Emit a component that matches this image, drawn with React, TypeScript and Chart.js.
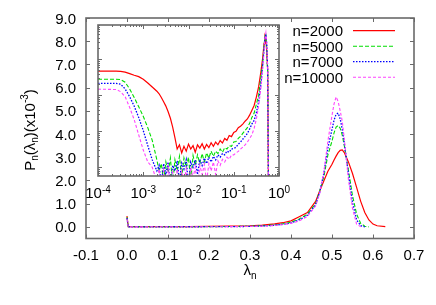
import { useEffect, useRef } from 'react';
import { Chart, registerables } from 'chart.js';

Chart.register(...registerables);

const FONT = '"Liberation Sans", Arial, Helvetica, sans-serif';
const AXIS = '#6a6a6a';

// ---------------- data ----------------
const seriesLabels = ['n=2000', 'n=5000', 'n=7000', 'n=10000'];

// main plot: P_n(lambda_n) (x10^-3) vs lambda_n
const mainLambda = [0, 0.003, 0.05, 0.1, 0.15, 0.2, 0.25, 0.3, 0.33, 0.36, 0.38, 0.4, 0.42, 0.44, 0.46, 0.47, 0.48, 0.49, 0.5, 0.505, 0.51, 0.515, 0.52, 0.525, 0.53, 0.54, 0.55, 0.56, 0.57, 0.58, 0.59, 0.6, 0.61, 0.63];
const mainN2000 = [0.47, 0.01, 0.01, 0.012, 0.015, 0.02, 0.03, 0.05, 0.08, 0.13, 0.18, 0.26, 0.44, 0.62, 1.1, 1.55, 1.98, 2.4, 2.7, 2.88, 3.05, 3.2, 3.3, 3.32, 3.2, 2.8, 2.3, 1.7, 1.1, 0.62, 0.3, 0.12, 0.05, 0.01];
const mainN5000 = [0.42, 0.005, 0.005, 0.006, 0.008, 0.01, 0.015, 0.03, 0.05, 0.08, 0.13, 0.2, 0.34, 0.55, 1.0, 1.55, 2.15, 3.1, 3.7, 4.05, 4.3, 4.37, 4.25, 3.95, 3.5, 2.45, 1.35, 0.55, 0.15, 0.03, 0.0, null, null, null];
const mainN7000 = [0.38, 0.004, 0.004, 0.005, 0.006, 0.008, 0.012, 0.02, 0.04, 0.07, 0.11, 0.17, 0.3, 0.5, 0.95, 1.5, 2.3, 3.4, 4.2, 4.6, 4.85, 4.9, 4.65, 4.2, 3.6, 2.3, 1.05, 0.3, 0.05, 0.005, null, null, null, null];
const mainN10000 = [0.35, 0.003, 0.003, 0.004, 0.005, 0.007, 0.01, 0.02, 0.03, 0.06, 0.1, 0.15, 0.26, 0.45, 0.9, 1.45, 2.35, 3.7, 4.8, 5.3, 5.6, 5.4, 5.0, 4.55, 3.8, 2.05, 0.8, 0.12, 0.01, null, null, null, null, null];

const mainXTicks = [-0.1, 0, 0.1, 0.2, 0.3, 0.4, 0.5, 0.6, 0.7];
const mainXTickLabels = ['-0.1', '0.0', '0.1', '0.2', '0.3', '0.4', '0.5', '0.6', '0.7'];
const mainYTicks = [0, 1, 2, 3, 4, 5, 6, 7, 8, 9];
const mainYTickLabels = ['0.0', '1.0', '2.0', '3.0', '4.0', '5.0', '6.0', '7.0', '8.0', '9.0'];

// inset: log-log view
const insetLambda = [
  0.0001, 0.000251, 0.000316, 0.000398, 0.000501, 0.000631, 0.000794, 0.001, 0.00126, 0.00158, 0.002,
  0.00224, 0.00251, 0.00282, 0.00316, 0.00355, 0.00398, 0.00447, 0.00501, 0.00562,
  0.00631, 0.00708, 0.00794, 0.00891, 0.01, 0.0112, 0.0126, 0.0141, 0.0158, 0.0178, 0.02, 0.0224, 0.0251, 0.0282, 0.0316,
  0.0355, 0.0398, 0.0447, 0.0501, 0.0562, 0.0631, 0.0708, 0.0794, 0.0891, 0.1, 0.112, 0.126, 0.141, 0.158, 0.178, 0.2,
  0.224, 0.251, 0.282, 0.316,
  0.355, 0.398, 0.437, 0.468, 0.49, 0.513, 0.537, 0.562, 0.589, 0.617,
];
const insetN2000 = [
  0.047, 0.047, 0.046, 0.044, 0.04, 0.036, 0.033, 0.028, 0.022, 0.017, 0.013,
  0.011, 0.0087, 0.0066, 0.005, 0.0035, 0.0023, 0.0013, 0.00066, 0.00032,
  0.00042, 0.00025, 0.00038, 0.00028, 0.00044, 0.00032, 0.0004, 0.00026, 0.00042, 0.00034, 0.00045, 0.00032, 0.00043, 0.00035, 0.00048,
  0.00038, 0.0005, 0.00042, 0.00055, 0.00047, 0.00063, 0.00056, 0.00076, 0.00071, 0.00093, 0.001, 0.00126, 0.00138, 0.00158, 0.0019, 0.0022,
  0.0028, 0.0038, 0.0052, 0.0089,
  0.0174, 0.045, 0.112, 0.28, 0.43, 0.35, 0.158, 0.05, 1e-5, 1e-6,
];
const insetN5000 = [
  0.028, 0.028, 0.0275, 0.023, 0.015, 0.0087, 0.0048, 0.0026, 0.00126, 0.00056, 0.00016,
  7.9e-5, 1.26e-4, 4.0e-5, 1.4e-4, 7.1e-5, 1.8e-4, 3.2e-5, 1.6e-4, 7.9e-5,
  2.0e-4, 5.0e-5, 1.8e-4, 1.0e-4, 1.9e-4, 4.0e-5, 2.1e-4, 1.12e-4, 2.2e-4, 1.26e-4, 2.4e-4, 1.4e-4, 2.5e-4, 1.8e-4, 2.8e-4,
  2.0e-4, 2.8e-4, 2.4e-4, 3.2e-4, 2.6e-4, 3.5e-4, 3.2e-4, 4.0e-4, 3.8e-4, 5.0e-4, 5.2e-4, 6.3e-4, 7.2e-4, 8.7e-4, 1.05e-3, 1.26e-3,
  1.66e-3, 2.4e-3, 3.2e-3, 5.6e-3,
  0.01, 0.032, 0.079, 0.25, 0.44, 0.48, 0.2, 0.04, 1e-5, 1e-6,
];
const insetN7000 = [
  0.0214, 0.0214, 0.0204, 0.015, 0.0091, 0.005, 0.0024, 0.00105, 0.0004, 0.00016, 7.9e-5,
  1.12e-4, 3.2e-5, 1.26e-4, 6.3e-5, 1.4e-4, 2.5e-5, 1.12e-4, 7.9e-5, 1.5e-4,
  4.0e-5, 1.3e-4, 8.9e-5, 1.6e-4, 3.2e-5, 1.4e-4, 1.0e-4, 1.6e-4, 6.3e-5, 1.66e-4, 1.12e-4, 1.8e-4, 1.26e-4, 1.9e-4, 1.4e-4,
  2.0e-4, 1.6e-4, 2.2e-4, 1.9e-4, 2.4e-4, 2.2e-4, 2.8e-4, 2.6e-4, 3.2e-4, 3.3e-4, 3.6e-4, 4.4e-4, 5.0e-4, 6.0e-4, 7.2e-4, 8.7e-4,
  1.15e-3, 1.58e-3, 2.0e-3, 3.3e-3,
  6.6e-3, 0.02, 0.071, 0.2, 0.4, 0.5, 0.25, 0.05, 1e-5, 1e-6,
];
const insetN10000 = [
  0.0148, 0.0145, 0.0126, 0.0091, 0.0046, 0.0021, 0.00079, 0.0003, 0.00014, 1.0e-4, 4.0e-5,
  8.9e-5, 2.5e-5, 7.9e-5, 1.6e-5, 1.0e-4, 3.2e-5, 7.1e-5, 2.0e-5, 8.9e-5,
  2.5e-5, 7.9e-5, 4.0e-5, 8.9e-5, 2.0e-5, 1.0e-4, 5.0e-5, 1.0e-4, 2.5e-5, 1.12e-4, 6.3e-5, 1.2e-4, 4.0e-5, 1.26e-4, 7.9e-5,
  1.4e-4, 6.3e-5, 1.5e-4, 1.12e-4, 1.66e-4, 1.4e-4, 1.9e-4, 1.66e-4, 2.2e-4, 2.2e-4, 2.5e-4, 2.75e-4, 3.2e-4, 3.6e-4, 4.2e-4, 5.0e-4,
  6.3e-4, 7.9e-4, 1.2e-3, 2.2e-3,
  5.0e-3, 0.0158, 0.056, 0.178, 0.38, 0.54, 0.28, 0.056, 1e-5, 1e-6,
];

const insetXTicks = [1e-4, 1e-3, 1e-2, 1e-1, 1];
const insetXTickExponents = ['-4', '-3', '-2', '-1', '0'];

// ---------------- styles ----------------
const seriesColors = ['#ff0000', '#00dd00', '#0000ff', '#ff44ff'];
const seriesDashes: number[][] = [[], [4, 2], [1.5, 1.5], [3, 2]];
const seriesWidths = [1.2, 1.1, 1.3, 1.1];

type Run = { t: string; size: number; dy: number };

function runsWidth(ctx: CanvasRenderingContext2D, runs: Run[]) {
  let w = 0;
  for (const r of runs) {
    ctx.font = `${r.size}px ${FONT}`;
    w += ctx.measureText(r.t).width;
  }
  return w;
}

function drawRuns(ctx: CanvasRenderingContext2D, runs: Run[], x: number, y: number, align: 'left' | 'center' | 'right') {
  const total = runsWidth(ctx, runs);
  let cx = align === 'center' ? x - total / 2 : align === 'right' ? x - total : x;
  ctx.textAlign = 'left';
  ctx.textBaseline = 'alphabetic';
  for (const r of runs) {
    ctx.font = `${r.size}px ${FONT}`;
    ctx.fillText(r.t, cx, y + r.dy);
    cx += ctx.measureText(r.t).width;
  }
}

function seg(ctx: CanvasRenderingContext2D, x1: number, y1: number, x2: number, y2: number) {
  ctx.beginPath();
  ctx.moveTo(x1, y1);
  ctx.lineTo(x2, y2);
  ctx.stroke();
}

const mainAxesPlugin = {
  id: 'mainAxes',
  afterDraw(chart: any) {
    const ctx: CanvasRenderingContext2D = chart.ctx;
    const { left, right, top, bottom } = chart.chartArea;
    const xs = chart.scales.x;
    const ys = chart.scales.y;
    ctx.save();
    ctx.strokeStyle = AXIS;
    ctx.lineWidth = 1;
    const T = 4;
    mainXTicks.forEach((v) => {
      const px = Math.round(xs.getPixelForValue(v)) + 0.5;
      seg(ctx, px, bottom, px, bottom - T);
      seg(ctx, px, top, px, top + T);
    });
    mainYTicks.forEach((v) => {
      const py = Math.round(ys.getPixelForValue(v)) + 0.5;
      seg(ctx, left, py, left + T, py);
      seg(ctx, right, py, right - T, py);
    });
    ctx.lineWidth = 1.6;
    ctx.strokeRect(left, top, right - left, bottom - top);

    ctx.fillStyle = '#000';
    ctx.font = `15px ${FONT}`;
    ctx.textBaseline = 'alphabetic';
    ctx.textAlign = 'center';
    mainXTicks.forEach((v, i) => {
      ctx.fillText(mainXTickLabels[i], xs.getPixelForValue(v), bottom + 21.5);
    });
    ctx.textAlign = 'right';
    mainYTicks.forEach((v, i) => {
      ctx.fillText(mainYTickLabels[i], left - 10, ys.getPixelForValue(v) + 5.5);
    });

    // x title
    drawRuns(ctx, [
      { t: 'λ', size: 15, dy: 0 },
      { t: 'n', size: 10, dy: 4 },
    ], (left + right) / 2, 275, 'center');

    // y title (rotated)
    ctx.save();
    ctx.translate(35, 130);
    ctx.rotate(-Math.PI / 2);
    drawRuns(ctx, [
      { t: 'P', size: 15, dy: 0 },
      { t: 'n', size: 10, dy: 3 },
      { t: '(λ', size: 15, dy: 0 },
      { t: 'n', size: 10, dy: 3 },
      { t: ')(x10', size: 15, dy: 0 },
      { t: '-3', size: 10, dy: -7 },
      { t: ')', size: 15, dy: 0 },
    ], 0, 0, 'center');
    ctx.restore();

    // legend
    const ds = chart.data.datasets;
    ds.forEach((d: any, i: number) => {
      const base = 36 + i * 15.5;
      ctx.fillStyle = '#000';
      ctx.font = `15px ${FONT}`;
      ctx.textAlign = 'right';
      ctx.fillText(d.label, 343, base);
      ctx.strokeStyle = d.borderColor;
      ctx.lineWidth = d.borderWidth;
      ctx.setLineDash(d.borderDash || []);
      seg(ctx, 353, base - 5.3, 395, base - 5.3);
      ctx.setLineDash([]);
    });
    ctx.restore();
  },
};

const insetAxesPlugin = {
  id: 'insetAxes',
  afterDraw(chart: any) {
    const ctx: CanvasRenderingContext2D = chart.ctx;
    const { left, right, top, bottom } = chart.chartArea;
    const xs = chart.scales.x;
    const ys = chart.scales.y;
    ctx.save();
    ctx.strokeStyle = AXIS;
    ctx.lineWidth = 1;
    const xmin = xs.min, xmax = xs.max, ymin = ys.min, ymax = ys.max;
    for (let n = -6; n <= 1; n++) {
      for (let k = 1; k <= 9; k++) {
        const v = k * Math.pow(10, n);
        const len = k === 1 ? 4 : 2;
        if (v >= xmin * 0.999 && v <= xmax * 1.001) {
          const px = Math.round(xs.getPixelForValue(v)) + 0.5;
          seg(ctx, px, bottom, px, bottom - len);
          seg(ctx, px, top, px, top + len);
        }
        if (v >= ymin && v <= ymax) {
          const py = Math.round(ys.getPixelForValue(v)) + 0.5;
          seg(ctx, left, py, left + len, py);
          seg(ctx, right, py, right - len, py);
        }
      }
    }
    ctx.lineWidth = 1.6;
    ctx.strokeRect(left, top, right - left, bottom - top);

    ctx.fillStyle = '#000';
    insetXTicks.forEach((v, i) => {
      drawRuns(ctx, [
        { t: '10', size: 15, dy: 0 },
        { t: insetXTickExponents[i], size: 10, dy: -5 },
      ], xs.getPixelForValue(v), 198, 'center');
    });
    ctx.restore();
  },
};

function buildDatasets(xs: number[], series: (number | null)[][]) {
  return series.map((vals, i) => ({
    label: seriesLabels[i],
    data: xs.map((x, j) => ({ x, y: vals[j] })),
    borderColor: seriesColors[i],
    borderWidth: seriesWidths[i],
    borderDash: seriesDashes[i],
    pointRadius: 0,
    tension: 0,
    fill: false,
    order: series.length - i,
  }));
}

export default function App() {
  const mainRef = useRef<HTMLCanvasElement>(null);
  const insetRef = useRef<HTMLCanvasElement>(null);

  useEffect(() => {
    const common = {
      responsive: false,
      animation: false as const,
      events: [] as any[],
      plugins: { legend: { display: false }, tooltip: { enabled: false } },
    };
    const main = new Chart(mainRef.current as HTMLCanvasElement, {
      type: 'line',
      data: {
        datasets: buildDatasets(mainLambda, [mainN2000, mainN5000, mainN7000, mainN10000]) as any,
      },
      options: {
        ...common,
        layout: { padding: { left: 86, top: 18, right: 22, bottom: 66.5 } },
        scales: {
          x: { type: 'linear', min: -0.1, max: 0.7, display: false },
          y: { type: 'linear', min: -0.5, max: 9, display: false },
        },
      } as any,
      plugins: [mainAxesPlugin],
    });
    const inset = new Chart(insetRef.current as HTMLCanvasElement, {
      type: 'line',
      data: {
        datasets: buildDatasets(insetLambda, [insetN2000, insetN5000, insetN7000, insetN10000]) as any,
      },
      options: {
        ...common,
        layout: { padding: { left: 98, top: 25, right: 157, bottom: 129 } },
        scales: {
          x: { type: 'logarithmic', min: 1e-4, max: 1, display: false },
          y: { type: 'logarithmic', min: 5.7e-5, max: 0.9, display: false },
        },
      } as any,
      plugins: [insetAxesPlugin],
    });
    return () => {
      main.destroy();
      inset.destroy();
    };
  }, []);

  return (
    <div style={{ position: 'fixed', left: 0, top: 0, width: 436, height: 305, background: '#fff' }}>
      <canvas ref={mainRef} width={436} height={305} style={{ position: 'absolute', left: 0, top: 0, width: 436, height: 305 }} />
      <canvas ref={insetRef} width={436} height={305} style={{ position: 'absolute', left: 0, top: 0, width: 436, height: 305 }} />
    </div>
  );
}
